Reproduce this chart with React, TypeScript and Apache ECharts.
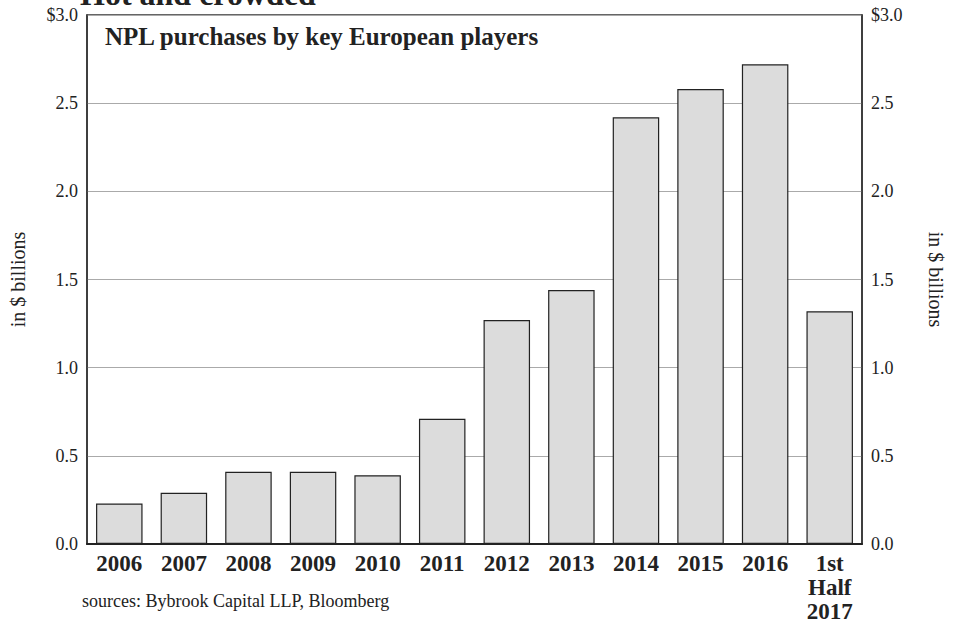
import React, { useEffect, useRef } from "react";
import * as echarts from "echarts";

const categories = ["2006", "2007", "2008", "2009", "2010", "2011", "2012", "2013", "2014", "2015", "2016", "1st\nHalf\n2017"];
const purchases = [0.23, 0.29, 0.41, 0.41, 0.39, 0.71, 1.27, 1.44, 2.42, 2.58, 2.72, 1.32];
const chartTitle = "Hot and crowded";
const innerTitle = "NPL purchases by key European players";
const axisName = "in $ billions";
const sourceNote = "sources: Bybrook Capital LLP, Bloomberg";

const FONT = "'Liberation Serif', 'DejaVu Serif', serif";

const fmt = (v: number) => (v === 3 ? "$3.0" : v.toFixed(1));

export default function App() {
  const ref = useRef<HTMLDivElement>(null);
  useEffect(() => {
    if (!ref.current) return;
    const chart = echarts.init(ref.current, undefined, { renderer: "svg" });
    chart.setOption({
      animation: false,
      backgroundColor: "#ffffff",
      textStyle: { fontFamily: FONT },
      grid: {
        left: 79,
        right: 91,
        top: 15,
        bottom: 80,
        show: true,
        borderColor: "#333",
        borderWidth: 1.5,
        containLabel: false,
      },
      graphic: [
        {
          type: "text",
          left: 80,
          top: -22,
          style: { text: chartTitle, font: `bold 32px ${FONT}`, fill: "#222" },
        },
        {
          type: "text",
          left: 105,
          top: 24,
          style: { text: innerTitle, font: `bold 25px ${FONT}`, fill: "#222" },
        },
        {
          type: "text",
          left: 82,
          top: 592,
          style: { text: sourceNote, font: `18px ${FONT}`, fill: "#222" },
        },
      ],
      xAxis: {
        type: "category",
        data: categories,
        axisLine: { lineStyle: { color: "#222", width: 2 } },
        axisTick: { show: false },
        axisLabel: {
          color: "#222",
          fontFamily: FONT,
          fontWeight: "bold",
          fontSize: 23,
          lineHeight: 24,
          margin: 7,
          interval: 0,
        },
      },
      yAxis: [
        {
          type: "value",
          min: 0,
          max: 3,
          interval: 0.5,
          position: "left",
          name: axisName,
          nameLocation: "middle",
          nameRotate: 90,
          nameGap: 59,
          nameTextStyle: { fontFamily: FONT, fontSize: 20, color: "#222" },
          axisLine: { show: true, lineStyle: { color: "#333", width: 1.5 } },
          axisTick: { show: false },
          splitLine: { show: true, lineStyle: { color: "#aaa", width: 1 } },
          axisLabel: { formatter: fmt, color: "#222", fontFamily: FONT, fontSize: 18, margin: 9 },
        },
        {
          type: "value",
          min: 0,
          max: 3,
          interval: 0.5,
          position: "right",
          name: axisName,
          nameLocation: "middle",
          nameRotate: -90,
          nameGap: 64,
          nameTextStyle: { fontFamily: FONT, fontSize: 20, color: "#222" },
          axisLine: { show: true, lineStyle: { color: "#333", width: 1.5 } },
          axisTick: { show: false },
          splitLine: { show: false },
          axisLabel: { formatter: fmt, color: "#222", fontFamily: FONT, fontSize: 18, margin: 9 },
        },
      ],
      series: [
        {
          type: "bar",
          data: purchases,
          barCategoryGap: "28%",
          itemStyle: { color: "#dcdcdc", borderColor: "#222", borderWidth: 1.2 },
        },
      ],
    });
    return () => chart.dispose();
  }, []);
  return <div ref={ref} style={{ width: 954, height: 624, position: "absolute", left: 0, top: 0 }} />;
}
